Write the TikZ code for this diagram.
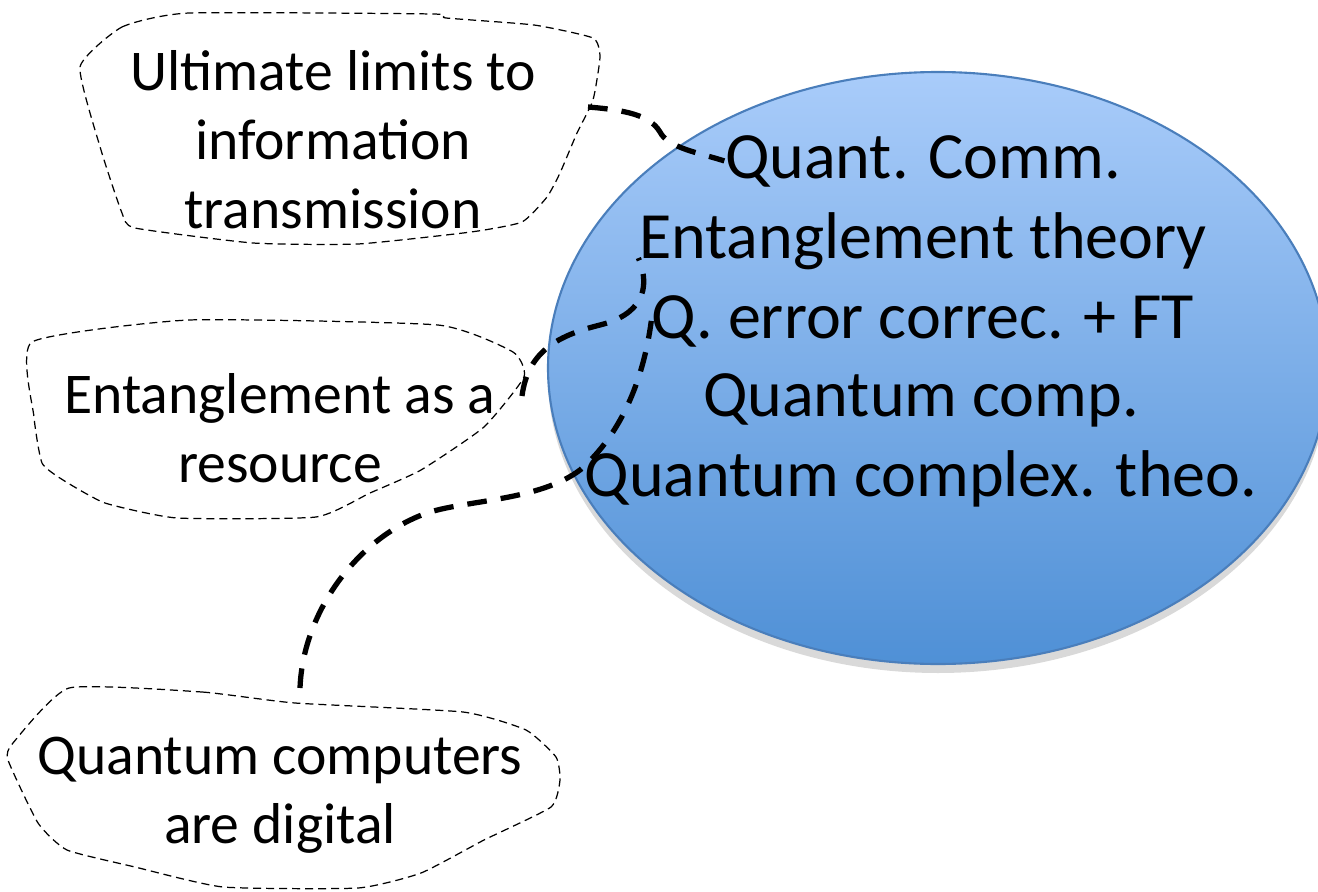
\documentclass[tikz,border=0pt]{standalone}
\usepackage{fontspec}
\setmainfont{Carlito}
\usetikzlibrary{shapes.geometric,shadows}
\definecolor{topicstop}{HTML}{A9CCFA}
\definecolor{topicsbottom}{HTML}{4F90D6}
\definecolor{topicsline}{HTML}{4A7EBB}

\begin{document}
\begin{tikzpicture}[x=0.1mm,y=-0.1mm,
  bubble/.style={draw,line width=0.35pt,dash pattern=on 2.3pt off 1.4pt},
  bubbletext/.style={align=center,inner sep=0pt,font=\fontsize{16.4}{19.6}\selectfont},
  topicline/.style={anchor=base,inner sep=0pt,font=\fontsize{18.8}{22.4}\selectfont},
  link/.style={line width=1.5pt,dash pattern=on 5.6pt off 4pt}]
\useasboundingbox (0,0) rectangle (1318,891);
\clip (0,0) rectangle (1318,891);

% main topics
\node[ellipse,draw=topicsline,line width=0.6pt,top color=topicstop,bottom color=topicsbottom,
  minimum width=78mm,minimum height=59.2mm,
  drop shadow={shadow xshift=0pt,shadow yshift=-0.9mm,opacity=0.3}] (topics) at (938,368) {};
\node[topicline] (comm) at (923,178) {Quant. Comm.};
\node[topicline] (ent) at (923,258) {Entanglement theory};
\node[topicline] (qec) at (923,338) {Q. error correc. + FT};
\node[topicline] (qcomp) at (921,416) {Quantum comp.};
\node[topicline] (qcplx) at (921,496) {Quantum complex. theo.};

% bubbles
\draw[bubble] plot[smooth cycle,tension=0.3] coordinates {(80,67) (122,27) (189,13) (433,14) (446,18) (534,25) (593,38) (600,57) (593,100) (577,133) (560,173) (547,197) (522,222) (471,232) (358,244) (253,243) (135,228) (122,213) (101,150)};
\node[bubbletext] (limits) at (333,140) {Ultimate limits to\\information\\transmission};

\draw[bubble] plot[smooth cycle,tension=0.3] coordinates {(32,342) (189,320) (438,325) (513,352) (524,377) (484,427) (421,470) (370,493) (316,517) (177,518) (105,503) (63,480) (42,463) (34,417)};
\node[bubbletext] (resource) at (280,428) {Entanglement as a\\resource};

\draw[bubble] plot[smooth cycle,tension=0.3] coordinates {(69,688) (202,692) (295,703) (463,712) (526,730) (556,757) (560,780) (551,807) (484,840) (421,873) (358,888) (223,887) (135,867) (67,850) (38,823) (8,760) (13,743)};
\node[bubbletext] (digital) at (280,795) {Quantum computers\\are digital};

% links
\coordinate (limits-out) at (588,107);
\coordinate (resource-out) at (522,396);
\coordinate (digital-out) at (300,688);
\draw[link] (limits-out) .. controls (625,110) and (650,115) .. (660,132) .. controls (668,148) and (700,153) .. (comm.west);
\draw[link] (resource-out) .. controls (528,350) and (560,335) .. (600,325) .. controls (640,315) and (652,290) .. (ent.base west);
\draw[link] (digital-out) .. controls (303,610) and (360,535) .. (430,512) .. controls (470,500) and (540,500) .. (580,470) .. controls (615,440) and (642,390) .. (qec.west);
\end{tikzpicture}
\end{document}
